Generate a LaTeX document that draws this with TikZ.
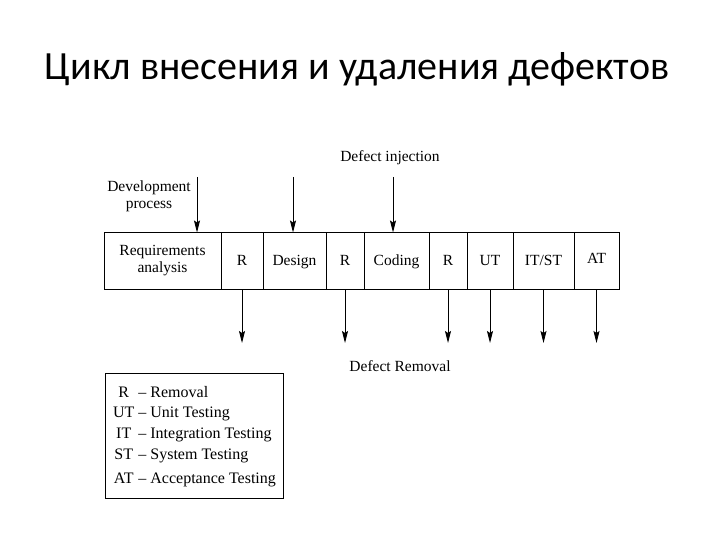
\documentclass[tikz,border=0pt]{standalone}
\usepackage{fontspec}
\setmainfont{Liberation Serif}
\newfontfamily\titlefont{Carlito}
\usetikzlibrary{positioning,arrows.meta}

\begin{document}
\begin{tikzpicture}[x=1pt,y=-1pt,
  stage/.style={draw,line width=0.9pt,minimum height=57pt,inner sep=0pt,outer sep=0pt,align=center,text height=11pt,text depth=3pt},
  arr/.style={-{Stealth[length=12pt,width=6pt,inset=2pt]},line width=0.9pt}]
\tikzstyle{every node}=[font=\fontsize{15.5}{17}\selectfont]
\useasboundingbox (0,0) rectangle (720,540);
\node[anchor=base,font=\titlefont\fontsize{40}{48}\selectfont] (title) at (357,80) {Цикл внесения и удаления дефектов};
% the stages
\node[stage,minimum width=117pt,text height=,text depth=] (req) at (162.5,261) {Requirements\\analysis};
\node[stage,minimum width=42pt,right=0pt of req] (r1) {R};
\node[stage,minimum width=63pt,right=0pt of r1] (design) {Design};
\node[stage,minimum width=38pt,right=0pt of design] (r2) {R};
\node[stage,minimum width=65pt,right=0pt of r2] (coding) {Coding};
\node[stage,minimum width=38pt,right=0pt of coding] (r3) {R};
\node[stage,minimum width=46pt,right=0pt of r3] (ut) {UT};
\node[stage,minimum width=61pt,right=0pt of ut] (itst) {IT/ST};
\node[stage,minimum width=45pt,right=0pt of itst,text depth=6pt] (acc) {AT};
% defect injection
\node[align=center] (devproc) at (149,196) {Development\\process};
\node (inject) at (390,158) {Defect injection};
\coordinate (in1) at (197,177);
\coordinate (in2) at (293,177);
\coordinate (in3) at (393,177);
\foreach \c in {in1,in2,in3}
  \draw[arr] (\c) -- (\c |- req.north);
% defect removal
\coordinate (out) at (0,343);
\foreach \c in {r1,r2,r3,ut,itst,acc}
  \draw[arr] (\c.south) -- (\c.south |- out);
\node (removal) at (400,366) {Defect Removal};
% legend
\node[draw,line width=1pt,minimum width=178pt,minimum height=125pt,anchor=north west,inner sep=0pt,font=\fontsize{16}{17}\selectfont] (key) at (105,373) {%
  \renewcommand{\arraystretch}{1.22}%
  \begin{tabular}{@{}c@{ -- }l@{}}
  R & Removal\\
  UT & Unit Testing\\
  IT & Integration Testing\\
  ST & System Testing\\[3pt]
  AT & Acceptance Testing
  \end{tabular}};
\end{tikzpicture}
\end{document}
